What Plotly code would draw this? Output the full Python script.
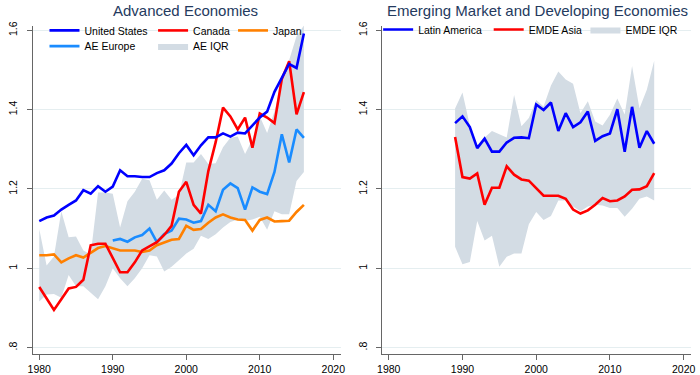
import plotly.graph_objects as go

years_ae = list(range(1980, 2017))
years_eur = list(range(1990, 2017))
years_em = list(range(1989, 2017))

us = [1.119, 1.128, 1.133, 1.148, 1.160, 1.171, 1.197, 1.188, 1.207, 1.193,
      1.206, 1.247, 1.232, 1.232, 1.230, 1.230, 1.240, 1.247, 1.264, 1.290,
      1.311, 1.285, 1.310, 1.330, 1.330, 1.340, 1.332, 1.342, 1.340, 1.360,
      1.380, 1.395, 1.445, 1.480, 1.515, 1.505, 1.592]
canada = [0.953, 0.923, 0.895, 0.922, 0.949, 0.953, 0.971, 1.058, 1.062, 1.062,
          1.027, 0.990, 0.990, 1.015, 1.045, 1.055, 1.066, 1.084, 1.107, 1.193,
          1.218, 1.160, 1.138, 1.245, 1.318, 1.405, 1.383, 1.350, 1.380, 1.304,
          1.390, 1.380, 1.366, 1.477, 1.522, 1.388, 1.444]
japan = [1.033, 1.033, 1.035, 1.015, 1.025, 1.033, 1.027, 1.039, 1.051, 1.056,
         1.051, 1.045, 1.045, 1.045, 1.041, 1.045, 1.058, 1.066, 1.072, 1.074,
         1.107, 1.097, 1.099, 1.115, 1.128, 1.136, 1.128, 1.123, 1.122, 1.095,
         1.122, 1.128, 1.118, 1.119, 1.120, 1.142, 1.160]
ae_europe = [1.070, 1.074, 1.067, 1.078, 1.084, 1.100, 1.066, 1.086, 1.095, 1.125,
             1.123, 1.115, 1.119, 1.160, 1.144, 1.198, 1.214, 1.202, 1.148, 1.204,
             1.193, 1.187, 1.243, 1.338, 1.267, 1.350, 1.329]
ae_iqr_low = [0.916, 0.934, 0.935, 0.926, 0.983, 0.955, 0.955, 0.938, 0.922, 0.955,
              1.000, 0.975, 0.955, 0.975, 1.000, 1.033, 1.030, 0.992, 1.004, 1.020,
              1.037, 1.049, 1.082, 1.074, 1.086, 1.103, 1.117, 1.123, 1.119, 1.123,
              1.130, 1.097, 1.144, 1.136, 1.136, 1.220, 1.243]
ae_iqr_high = [1.099, 1.007, 1.030, 1.144, 1.078, 1.080, 1.045, 1.035, 1.191, 1.191,
               1.188, 1.103, 1.169, 1.193, 1.226, 1.222, 1.173, 1.196, 1.173, 1.185,
               1.267, 1.267, 1.288, 1.263, 1.265, 1.305, 1.329, 1.332, 1.288, 1.325,
               1.383, 1.341, 1.395, 1.470, 1.525, 1.585, 1.612]

latam = [1.366, 1.383, 1.356, 1.303, 1.327, 1.294, 1.294, 1.317, 1.329, 1.330, 1.328,
         1.413, 1.399, 1.418, 1.346, 1.391, 1.356, 1.368, 1.395, 1.321, 1.333,
         1.340, 1.401, 1.294, 1.407, 1.304, 1.346, 1.314]
emde_asia = [1.331, 1.230, 1.226, 1.239, 1.160, 1.203, 1.203, 1.257, 1.236, 1.224, 1.221,
             1.202, 1.183, 1.183, 1.183, 1.175, 1.148, 1.138, 1.146, 1.160, 1.177,
             1.169, 1.171, 1.181, 1.198, 1.199, 1.207, 1.240]
emde_iqr_high = [1.403, 1.443, 1.360, 1.310, 1.330, 1.346, 1.338, 1.330, 1.437, 1.358, 1.379,
                 1.424, 1.408, 1.461, 1.496, 1.476, 1.465, 1.391, 1.421, 1.370, 1.360,
                 1.387, 1.428, 1.388, 1.510, 1.403, 1.450, 1.523]
emde_iqr_low = [1.054, 1.010, 1.016, 1.119, 1.070, 1.082, 1.004, 1.029, 1.037, 1.037, 1.111,
                1.142, 1.122, 1.132, 1.171, 1.171, 1.156, 1.144, 1.156, 1.160, 1.158,
                1.152, 1.152, 1.130, 1.150, 1.175, 1.181, 1.171]

x_ticks = [1980, 1990, 2000, 2010, 2020]
y_ticks = [0.8, 1.0, 1.2, 1.4, 1.6]
y_tick_text = [".8", "1", "1.2", "1.4", "1.6"]

BAND = "#D3DCE4"
FONT = "Liberation Sans, Arial, sans-serif"
LW = 2.6

fig = go.Figure()

# Advanced economies band
fig.add_trace(go.Scatter(x=years_ae, y=ae_iqr_low, mode="lines", line=dict(width=0, color=BAND),
                         showlegend=False, hoverinfo="skip", xaxis="x", yaxis="y"))
fig.add_trace(go.Scatter(x=years_ae, y=ae_iqr_high, mode="lines", line=dict(width=0, color=BAND),
                         fill="tonexty", fillcolor=BAND, name="AE IQR", legend="legend5",
                         xaxis="x", yaxis="y"))
fig.add_trace(go.Scatter(x=years_eur, y=ae_europe, mode="lines", line=dict(width=LW, color="#1A8CFF"),
                         name="AE Europe", legend="legend4", xaxis="x", yaxis="y"))
fig.add_trace(go.Scatter(x=years_ae, y=japan, mode="lines", line=dict(width=LW, color="#FF8000"),
                         name="Japan", legend="legend3", xaxis="x", yaxis="y"))
fig.add_trace(go.Scatter(x=years_ae, y=canada, mode="lines", line=dict(width=LW, color="#FF0000"),
                         name="Canada", legend="legend2", xaxis="x", yaxis="y"))
fig.add_trace(go.Scatter(x=years_ae, y=us, mode="lines", line=dict(width=LW, color="#0000FF"),
                         name="United States", legend="legend", xaxis="x", yaxis="y"))

# EMDE band
fig.add_trace(go.Scatter(x=years_em, y=emde_iqr_low, mode="lines", line=dict(width=0, color=BAND),
                         showlegend=False, hoverinfo="skip", xaxis="x2", yaxis="y2"))
fig.add_trace(go.Scatter(x=years_em, y=emde_iqr_high, mode="lines", line=dict(width=0, color=BAND),
                         fill="tonexty", fillcolor=BAND, name="EMDE IQR", legend="legend8",
                         xaxis="x2", yaxis="y2"))
fig.add_trace(go.Scatter(x=years_em, y=emde_asia, mode="lines", line=dict(width=LW, color="#FF0000"),
                         name="EMDE Asia", legend="legend7", xaxis="x2", yaxis="y2"))
fig.add_trace(go.Scatter(x=years_em, y=latam, mode="lines", line=dict(width=LW, color="#0000FF"),
                         name="Latin America", legend="legend6", xaxis="x2", yaxis="y2"))

xaxis_common = dict(range=[1979.1, 2021.0], tickvals=x_ticks, ticks="outside", ticklen=5,
                    tickcolor="#666", showline=True, linecolor="#666", linewidth=1,
                    showgrid=False, zeroline=False, tickfont=dict(size=10.5, color="#000"))
yaxis_common = dict(range=[0.783, 1.612], tickvals=y_ticks, ticktext=y_tick_text, ticks="outside",
                    ticklen=5, tickcolor="#666", showline=True, linecolor="#666", linewidth=1,
                    showgrid=True, gridcolor="#E5EEF0", gridwidth=1, zeroline=False,
                    tickangle=-90, ticklabelstandoff=5, tickfont=dict(size=10.5, color="#000"))


def leg(px_x, px_y):
    return dict(orientation="h", bgcolor="rgba(0,0,0,0)",
                font=dict(size=10.5, color="#000", family=FONT),
                xanchor="left", yanchor="middle", itemwidth=30, tracegroupgap=0,
                traceorder="normal", x=px_x / 700, y=1 - px_y / 375)


fig.update_layout(
    width=700, height=375,
    margin=dict(l=0, r=0, t=0, b=0),
    paper_bgcolor="white", plot_bgcolor="white",
    font=dict(family=FONT),
    xaxis=dict(domain=[28 / 700, 340 / 700], anchor="y", **xaxis_common),
    yaxis=dict(domain=[17 / 375, 353 / 375], anchor="x", **yaxis_common),
    xaxis2=dict(domain=[382 / 700, 695 / 700], anchor="y2", **xaxis_common),
    yaxis2=dict(domain=[17 / 375, 353 / 375], anchor="x2", **yaxis_common),
    legend=leg(40, 27),
    legend2=leg(150, 27),
    legend3=leg(231, 27),
    legend4=leg(40, 43),
    legend5=leg(150, 43),
    legend6=leg(378, 26),
    legend7=leg(490, 26),
    legend8=leg(588, 26),
    annotations=[
        dict(text="Advanced Economies", x=183 / 700, y=1 - 7 / 375, xref="paper", yref="paper",
             showarrow=False, xanchor="center", yanchor="middle",
             font=dict(size=15, color="#243A5E", family=FONT)),
        dict(text="Emerging Market and Developing Economies", x=539 / 700, y=1 - 7 / 375,
             xref="paper", yref="paper", showarrow=False, xanchor="center", yanchor="middle",
             font=dict(size=15, color="#243A5E", family=FONT)),
    ],
)

fig.write_html("out.html", config={"displayModeBar": False},
               post_script="document.body.style.margin='0';document.body.style.overflow='hidden';")
